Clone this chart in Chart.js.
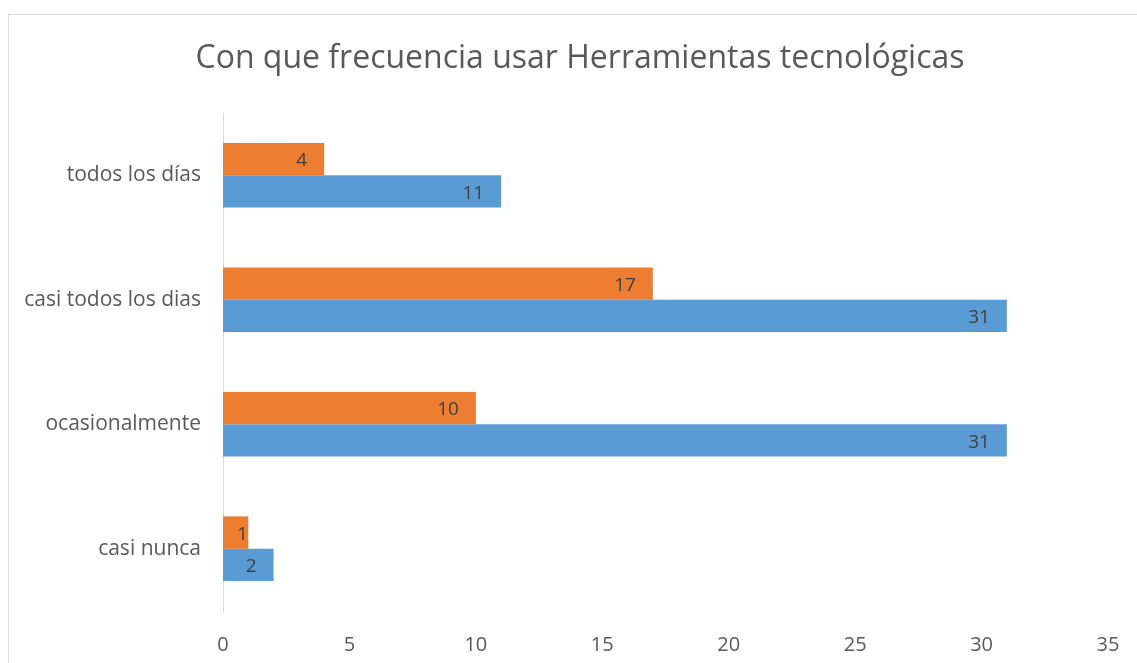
<!DOCTYPE html>
<html lang="es">
<head>
<meta charset="UTF-8">
<title>Con que frecuencia usar Herramientas tecnológicas</title>
<script src="https://cdn.jsdelivr.net/npm/chart.js"></script>
<style>
  html, body { margin: 0; padding: 0; background: #ffffff; overflow: hidden; }
  body { width: 1137px; height: 663px; position: relative; }
  .marco { position: absolute; left: 8px; top: 14px; width: 1142px; height: 660px; border: 1px solid #d9d9d9; background: #fff; }
</style>
</head>
<body>
<div class="marco"><canvas id="grafico" width="1142" height="660"></canvas></div>
<script>
// DATOS
const categorias = ['todos los días', 'casi todos los dias', 'ocasionalmente', 'casi nunca'];
const serieNaranja = [4, 17, 10, 1];
const serieAzul = [11, 31, 31, 2];
const ticksX = [0, 5, 10, 15, 20, 25, 30, 35];
const TITULO = 'Con que frecuencia usar Herramientas tecnológicas';

const FUENTE = "'Open Sans', 'Liberation Sans', sans-serif";

// titulo centrado sobre todo el lienzo (el area del grafico no esta centrada)
const tituloCentrado = {
    id: 'tituloCentrado',
    afterDraw(chart) {
        const ctx = chart.ctx;
        ctx.save();
        ctx.font = '32px ' + FUENTE;
        ctx.fillStyle = '#595959';
        ctx.textAlign = 'center';
        ctx.textBaseline = 'middle';
        ctx.fillText(TITULO, chart.width / 2, 44);
        ctx.restore();
    }
};

// etiquetas dentro del extremo de cada barra (como Excel: no pasan del eje)
const etiquetasBarras = {
    id: 'etiquetasBarras',
    afterDatasetsDraw(chart) {
        const ctx = chart.ctx;
        ctx.save();
        ctx.font = '19px ' + FUENTE;
        ctx.fillStyle = '#404040';
        ctx.textAlign = 'right';
        ctx.textBaseline = 'middle';
        chart.data.datasets.forEach((ds, i) => {
            chart.getDatasetMeta(i).data.forEach((bar, j) => {
                const txt = String(ds.data[j]);
                const w = ctx.measureText(txt).width;
                const x = Math.max(bar.x - 17, bar.base + w + 14);
                ctx.fillText(txt, x, bar.y + 2);
            });
        });
        ctx.restore();
    }
};

new Chart(document.getElementById('grafico'), {
    type: 'bar',
    data: {
        labels: categorias,
        datasets: [
            { label: 'Serie 2', data: serieNaranja, backgroundColor: '#ED7D31' },
            { label: 'Serie 1', data: serieAzul, backgroundColor: '#5B9BD5' }
        ]
    },
    options: {
        indexAxis: 'y',
        responsive: false,
        animation: false,
        categoryPercentage: 0.52,
        barPercentage: 1,
        layout: { padding: { left: 0, right: 43, top: 98, bottom: 0 } },
        scales: {
            x: {
                min: 0, max: 35,
                afterBuildTicks: (axis) => { axis.ticks = ticksX.map(v => ({ value: v })); },
                afterFit: (axis) => { axis.height = 64; },
                grid: { display: false, drawTicks: false },
                border: { display: false },
                ticks: { color: '#595959', font: { family: FUENTE, size: 20 }, padding: 22 }
            },
            y: {
                afterFit: (axis) => { axis.width = 214; },
                grid: { display: false, drawTicks: false },
                border: { display: true, color: '#d9d9d9', width: 1 },
                ticks: { color: '#595959', font: { family: FUENTE, size: 21 }, padding: 22 }
            }
        },
        plugins: {
            legend: { display: false },
            tooltip: { enabled: false },
            title: { display: false }
        }
    },
    plugins: [tituloCentrado, etiquetasBarras]
});
</script>
</body>
</html>
